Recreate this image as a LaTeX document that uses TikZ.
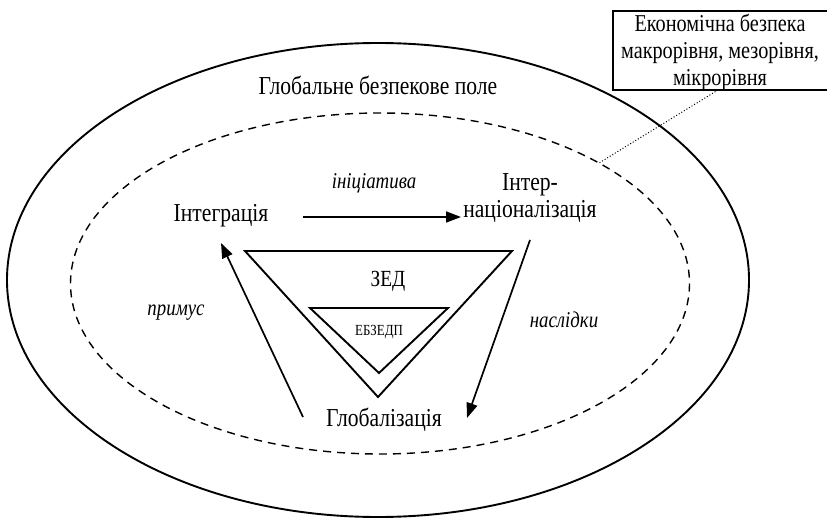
\documentclass[tikz,border=0pt]{standalone}
\usepackage{fontspec}
\setmainfont{Liberation Serif}[FakeStretch=0.92]
\usetikzlibrary{arrows.meta}
\begin{document}
\begin{tikzpicture}[x=1pt,y=-1pt,
  txt/.style={inner sep=0pt, transform shape, yscale=1.1},
  lbl/.style={txt, font=\fontsize{23.5}{25}\selectfont},
  ital/.style={txt, font=\fontsize{20.5}{24}\selectfont\itshape},
  flow/.style={line width=1.7pt, -{Triangle[length=15pt,width=11pt]}},
  tri/.style={line width=1.9pt, line join=miter}]
\useasboundingbox (0,0) rectangle (827,519);
\fill[white] (0,0) rectangle (827,519);

% outer field and dashed inner field
\draw[line width=1.9pt] (378,280) ellipse [x radius=371, y radius=237];
\draw[line width=1.4pt, dash pattern=on 8pt off 6pt] (380,283.5) ellipse [x radius=309.5, y radius=170.5];

% callout box
\node[draw, line width=1.6pt, fill=white, minimum width=220pt, minimum height=79pt,
      anchor=north west, inner sep=0pt] (levels) at (612,10) {};
\node[txt, align=center, font=\fontsize{22}{24.5}\selectfont] (levtxt) at (720,52)
  {Економічна безпека\\макрорівня, мезорівня,\\мікрорівня};
\coordinate (boxfoot) at (718,90);
\coordinate (fieldpt) at (599,163);
\draw[line width=1pt, dotted] (boxfoot) -- (fieldpt);

\node[lbl] (title) at (378,85) {Глобальне безпекове поле};

% process nodes
\node[lbl] (integr) at (221,216) {Інтеграція};
\node[lbl, align=center] (intern) at (530,198) {Інтер-\\націоналізація};
\node[lbl] (glob) at (384,420) {Глобалізація};

% triangles
\draw[tri] (245,251) -- (512,251) -- (378,397) -- cycle;
\draw[tri] (310,308) -- (448,308) -- (379,373) -- cycle;
\node[txt, font=\fontsize{21}{24}\selectfont] (zed) at (388,281) {ЗЕД};
\node[txt, font=\fontsize{14}{16}\selectfont] (ebzedp) at (379,332) {ЕБЗЕДП};

% connectors
\coordinate (a1s) at (303,217);
\coordinate (a1e) at (461,217);
\draw[flow] (a1s) -- (a1e);
\coordinate (a2s) at (530,240);
\coordinate (a2e) at (467,418);
\draw[flow] (a2s) -- (a2e);
\coordinate (a3s) at (303,417);
\coordinate (a3e) at (221,243);
\draw[flow] (a3s) -- (a3e);

\node[ital] (init) at (374,183) {ініціатива};
\node[ital] (cons) at (564,320) {наслідки};
\node[ital] (force) at (176,313) {примус};
\end{tikzpicture}
\end{document}
